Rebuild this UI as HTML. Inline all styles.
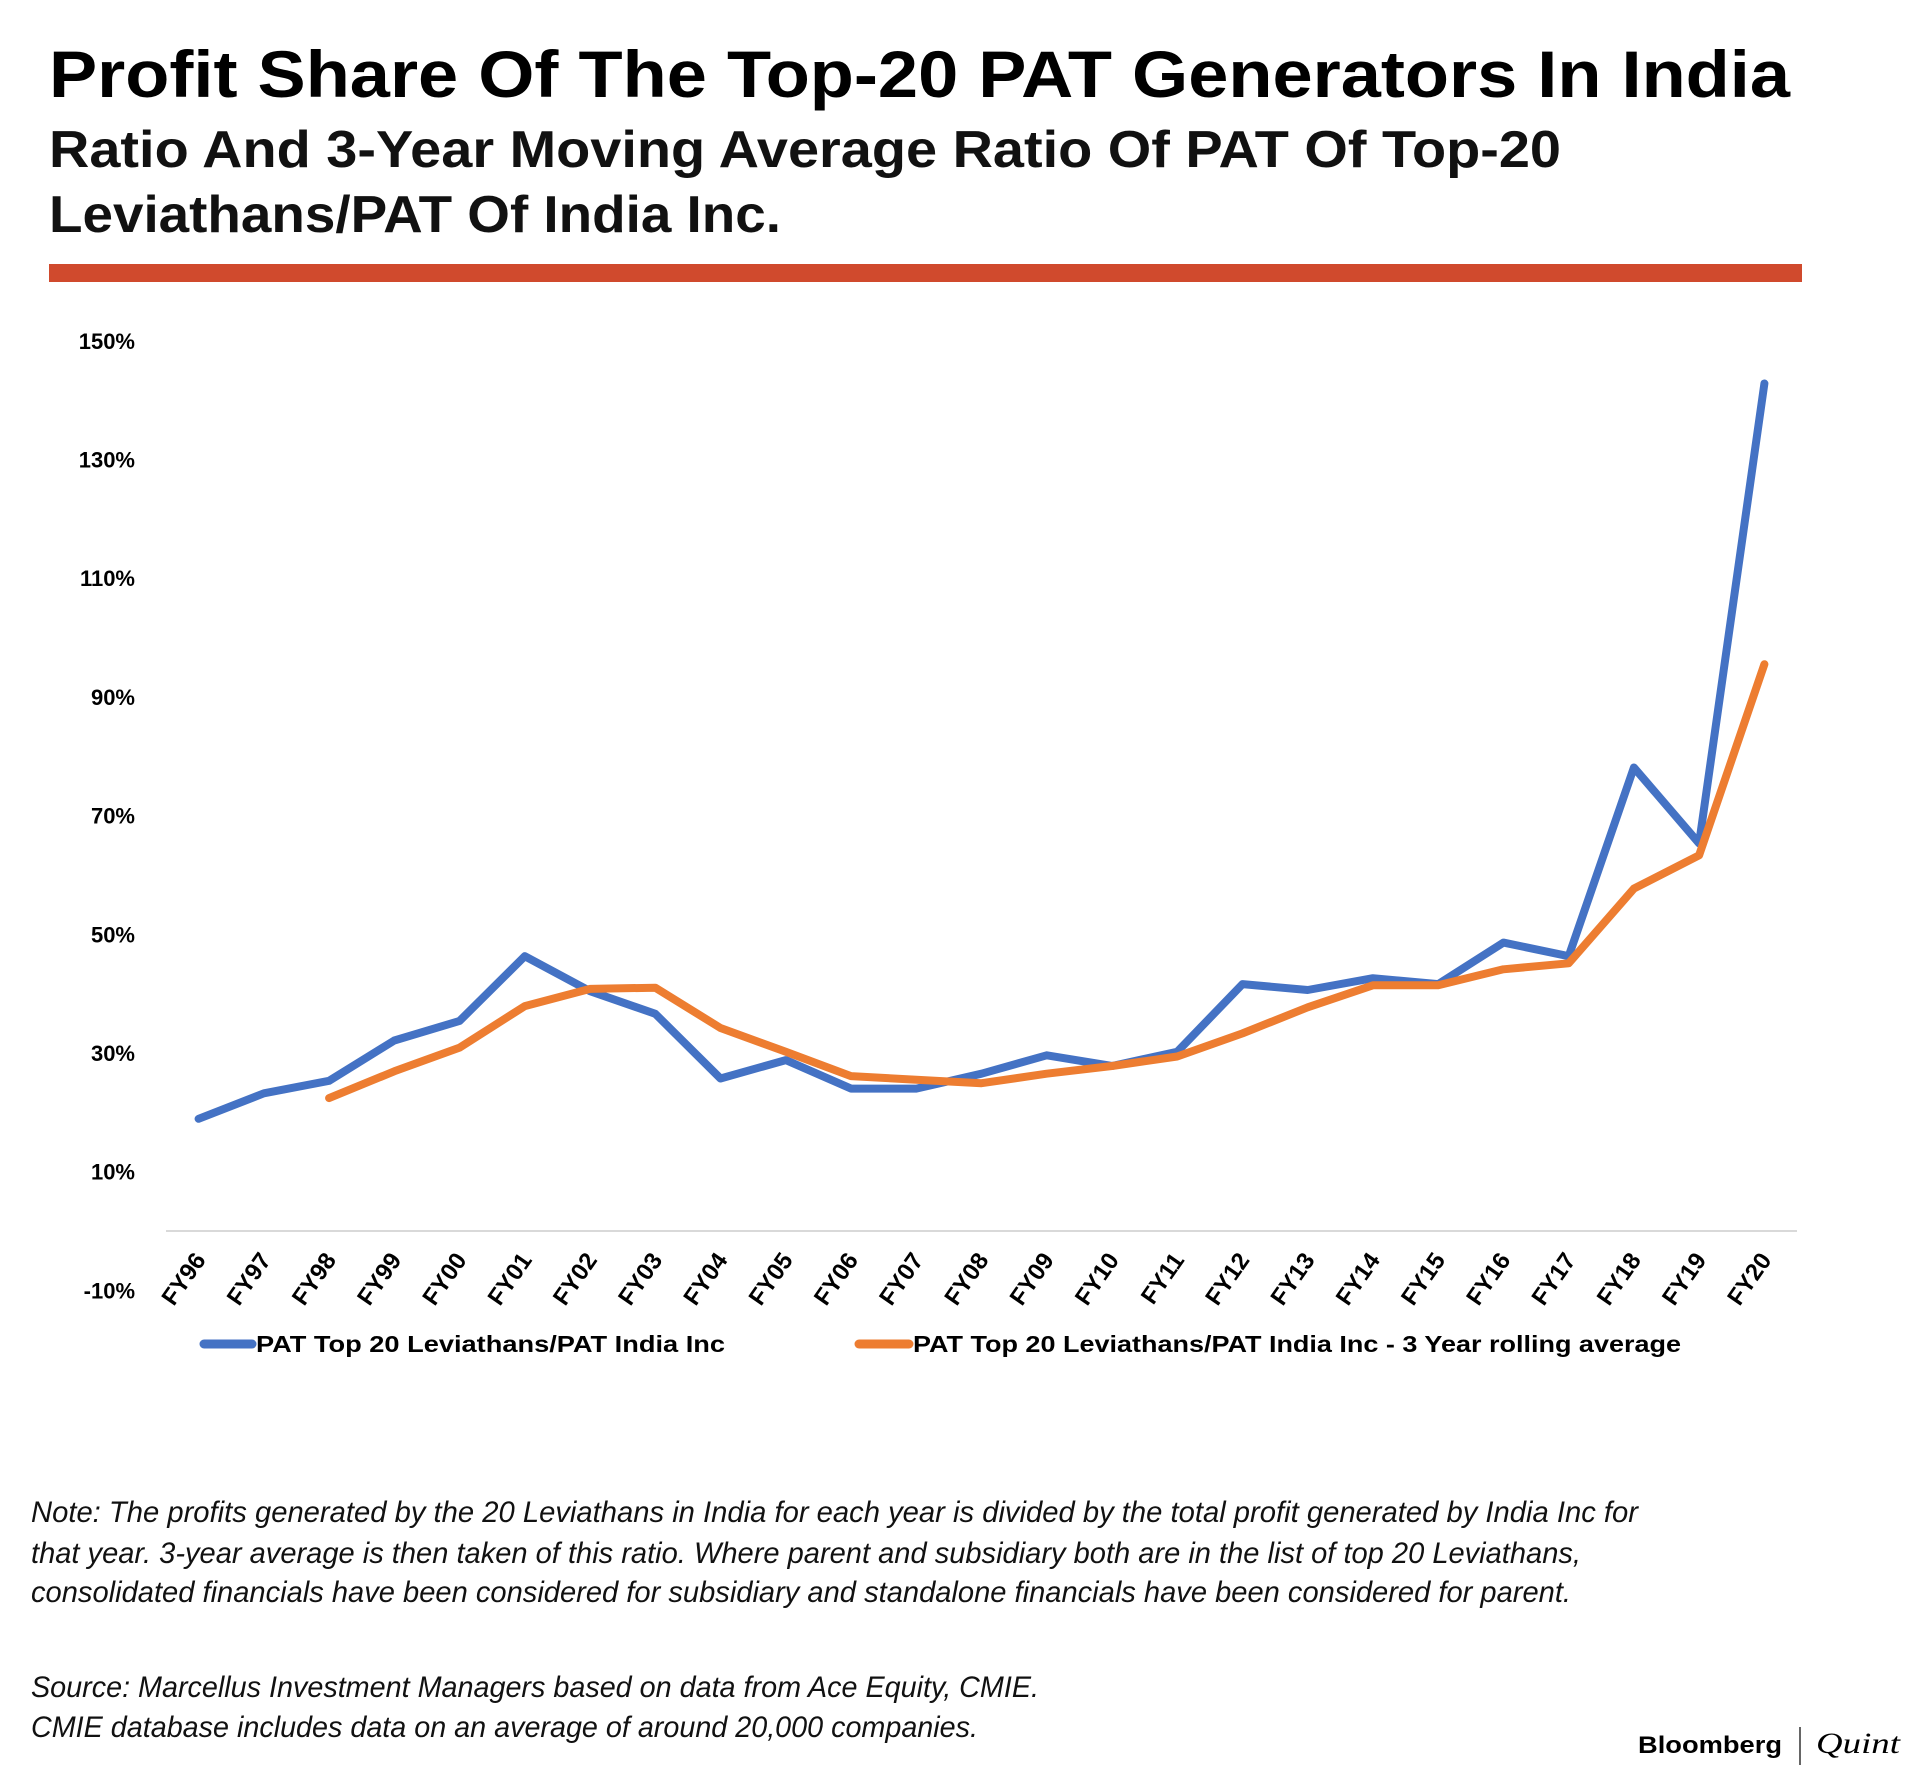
<!DOCTYPE html>
<html><head><meta charset="utf-8">
<style>
html,body{margin:0;padding:0;background:#fff;}
svg{display:block;font-family:"Liberation Sans",sans-serif;}
</style></head>
<body>
<svg id="chart" width="1920" height="1768" viewBox="0 0 1920 1768">
<text x="49" y="97" font-size="66" font-weight="bold" textLength="1741" lengthAdjust="spacingAndGlyphs">Profit Share Of The Top-20 PAT Generators In India</text>
<text x="49" y="167" font-size="52" textLength="1512" lengthAdjust="spacingAndGlyphs" font-weight="bold" fill="#111">Ratio And 3-Year Moving Average Ratio Of PAT Of Top-20</text>
<text x="49" y="232" font-size="52" textLength="732" lengthAdjust="spacingAndGlyphs" font-weight="bold" fill="#111">Leviathans/PAT Of India Inc.</text>
<rect x="49" y="264" width="1753" height="18" fill="#D04A2D"/>
<g id="yaxis"></g>
<line x1="166" y1="1231" x2="1797" y2="1231" stroke="#d9d9d9" stroke-width="2"/>
<g id="xaxis"></g>
<g id="series"></g>
<g>
<g>
<line x1="204" y1="1344" x2="252" y2="1344" stroke="#4472C4" stroke-width="9" stroke-linecap="round"/>
<text x="256" y="1352" font-size="23" font-weight="bold" textLength="469" lengthAdjust="spacingAndGlyphs">PAT Top 20 Leviathans/PAT India Inc</text>
</g>
<g>
<line x1="859" y1="1344" x2="909" y2="1344" stroke="#ED7D31" stroke-width="9" stroke-linecap="round"/>
<text x="913" y="1352" font-size="23" font-weight="bold" textLength="768" lengthAdjust="spacingAndGlyphs">PAT Top 20 Leviathans/PAT India Inc - 3 Year rolling average</text>
</g>
</g>
<g font-style="italic" font-size="30" fill="#111">
<text x="31" y="1522" textLength="1607" lengthAdjust="spacingAndGlyphs">Note: The profits generated by the 20 Leviathans in India for each year is divided by the total profit generated by India Inc for</text>
<text x="31" y="1563" textLength="1550" lengthAdjust="spacingAndGlyphs">that year. 3-year average is then taken of this ratio. Where parent and subsidiary both are in the list of top 20 Leviathans,</text>
<text x="31" y="1602" textLength="1540" lengthAdjust="spacingAndGlyphs">consolidated financials have been considered for subsidiary and standalone financials have been considered for parent.</text>
<text x="31" y="1697" textLength="1008" lengthAdjust="spacingAndGlyphs">Source: Marcellus Investment Managers based on data from Ace Equity, CMIE.</text>
<text x="31" y="1737" textLength="947" lengthAdjust="spacingAndGlyphs">CMIE database includes data on an average of around 20,000 companies.</text>
</g>
<g>
<text x="1638" y="1753" font-size="24" font-weight="bold" textLength="144" lengthAdjust="spacingAndGlyphs">Bloomberg</text>
<line x1="1800" y1="1727" x2="1800" y2="1765" stroke="#333" stroke-width="1.5"/>
<text x="1816" y="1753" font-family="Liberation Serif,serif" font-style="italic" font-size="30" textLength="84" lengthAdjust="spacingAndGlyphs">Quint</text>
</g>
</svg>
<script>
const categories = ["FY96","FY97","FY98","FY99","FY00","FY01","FY02","FY03","FY04","FY05","FY06","FY07","FY08","FY09","FY10","FY11","FY12","FY13","FY14","FY15","FY16","FY17","FY18","FY19","FY20"];
const ratioValues = [18.9,23.2,25.3,32.1,35.4,46.3,40.4,36.6,25.7,28.8,24.0,24.0,26.5,29.6,27.8,30.2,41.6,40.6,42.6,41.6,48.6,46.3,78.1,65.3,142.8];
const rollingValues = [null,null,22.4,26.9,30.9,37.9,40.8,41.0,34.2,30.2,26.1,25.5,24.9,26.5,27.8,29.4,33.3,37.7,41.4,41.4,44.1,45.1,57.7,63.3,95.5];
const yTicks = [-10,10,30,50,70,90,110,130,150];

const NS = "http://www.w3.org/2000/svg";
const plotL = 166, plotR = 1797;
const band = (plotR - plotL) / categories.length;
function xPos(i){ return plotL + band * (i + 0.5); }
function yPos(v){ return 1231 - v * (118.7 / 20); }

const yg = document.getElementById('yaxis');
yTicks.forEach(t => {
  const el = document.createElementNS(NS, 'text');
  el.setAttribute('x', 135);
  el.setAttribute('y', yPos(t) + 8);
  el.setAttribute('text-anchor', 'end');
  el.setAttribute('font-size', '22');
  el.setAttribute('font-weight', 'bold');
  el.textContent = t + '%';
  
  
  yg.appendChild(el);
});

const xg = document.getElementById('xaxis');
categories.forEach((c, i) => {
  const el = document.createElementNS(NS, 'text');
  const x = xPos(i) + 8, y = 1260;
  el.setAttribute('x', x);
  el.setAttribute('y', y);
  el.setAttribute('text-anchor', 'end');
  el.setAttribute('font-size', '24');
  el.setAttribute('font-weight', 'bold');
  el.setAttribute('transform', 'rotate(-55 ' + x + ' ' + y + ')');
  el.textContent = c;
  
  
  xg.appendChild(el);
});

function makeLine(vals, color, name){
  let d = '';
  vals.forEach((v, i) => {
    if (v === null) return;
    d += (d ? 'L' : 'M') + xPos(i).toFixed(1) + ' ' + yPos(v).toFixed(1) + ' ';
  });
  const p = document.createElementNS(NS, 'path');
  p.setAttribute('d', d);
  p.setAttribute('fill', 'none');
  p.setAttribute('stroke', color);
  p.setAttribute('stroke-width', '8');
  p.setAttribute('stroke-linecap', 'round');
  p.setAttribute('stroke-linejoin', 'round');
  
  
  document.getElementById('series').appendChild(p);
}
makeLine(ratioValues, '#4472C4', 'ratio-line');
makeLine(rollingValues, '#ED7D31', 'rolling-average-line');
</script>
</body></html>
